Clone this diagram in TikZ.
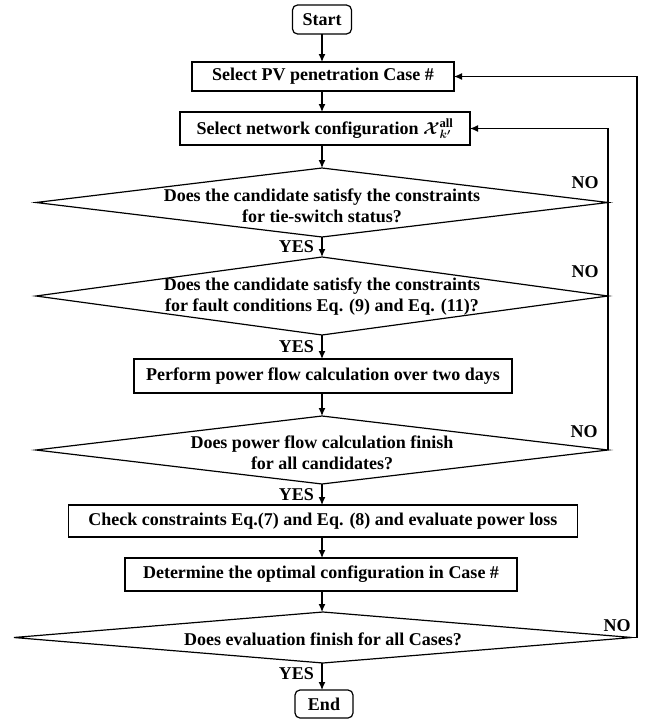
\documentclass[tikz,border=0pt]{standalone}
\usepackage{amsmath,bm}
\usepackage{fontspec}
\setmainfont{Liberation Serif}
\usetikzlibrary{shapes.geometric,arrows.meta}
\begin{document}
\begin{tikzpicture}[x=1pt,y=-1pt,
  txt/.style={font=\fontsize{18}{21}\selectfont\bfseries, inner sep=0pt, outer sep=0pt, align=center},
  box/.style={draw, line width=1.2pt, inner sep=0pt, outer sep=0pt},
  term/.style={box, rounded corners=5pt},
  dia/.style={draw, diamond, line width=1.2pt, inner sep=0pt, outer sep=0pt},
  arr/.style={line width=1.2pt, -{Latex[length=8pt,width=7pt]}},
  ln/.style={line width=1.2pt}]
\useasboundingbox (0,0) rectangle (646,720);

% terminals and boxes
\node[term, minimum width=59, minimum height=29] (start) at (322,19.5) {};
\node[txt] at (start) {Start};
\node[box, minimum width=262, minimum height=29] (b1) at (323,76.5) {};
\node[txt] at (b1) {Select PV penetration Case \#};
\node[box, minimum width=290, minimum height=33] (b2) at (325,128.5) {};
\node[txt] at (b2) {Select network configuration $\boldsymbol{\mathcal{X}}^{\mathbf{all}}_{\boldsymbol{k'}}$};

% diamonds
\node[dia, minimum width=572, minimum height=69] (d1) at (322,202.5) {};
\node[txt] at (322,205.5) {Does the candidate satisfy the constraints\\for tie-switch status?};
\node[dia, minimum width=572, minimum height=78] (d2) at (322,296) {};
\node[txt] at (322,296.5) {Does the candidate satisfy the constraints\\for fault conditions Eq. (9) and Eq. (11)?};

\node[box, minimum width=378, minimum height=34] (b3) at (323,376) {};
\node[txt] at (b3) {Perform power flow calculation over two days};

\node[dia, minimum width=572, minimum height=68] (d3) at (322,450) {};
\node[txt] at (322,453) {Does power flow calculation finish\\for all candidates?};

\node[box, minimum width=509, minimum height=32] (b4) at (323,521) {};
\node[txt] at (b4) {Check constraints Eq.(7) and Eq. (8) and evaluate power loss};
\node[box, minimum width=392, minimum height=33] (b5) at (321,574.5) {};
\node[txt] at (b5) {Determine the optimal configuration in Case \#};

\node[dia, minimum width=618, minimum height=51] (d4) at (323,637.5) {};
\node[txt] at (323,639) {Does evaluation finish for all Cases?};

\node[term, minimum width=58, minimum height=28] (end) at (324,704) {};
\node[txt] at (end) {End};

% main flow
\draw[arr] (start.south) -- (start.south |- b1.north);
\draw[arr] (b1.south -| start.south) -- (start.south |- b2.north);
\draw[arr] (b2.south -| start.south) -- (start.south |- d1.north);
\draw[arr] (d1.south -| start.south) -- (start.south |- d2.north);
\draw[arr] (d2.south -| start.south) -- (start.south |- b3.north);
\draw[arr] (b3.south -| start.south) -- (start.south |- d3.north);
\draw[arr] (d3.south -| start.south) -- (start.south |- b4.north);
\draw[arr] (b4.south -| start.south) -- (start.south |- b5.north);
\draw[arr] (b5.south -| start.south) -- (start.south |- d4.north);
\draw[arr] (d4.south -| start.south) -- (start.south |- end.north);

% YES labels
\node[txt, anchor=east] (y1) at (314,247) {YES};
\node[txt, anchor=east] (y2) at (314,347) {YES};
\node[txt, anchor=east] (y3) at (314,495) {YES};
\node[txt, anchor=east] (y4) at (314,674) {YES};

% NO labels
\node[txt] (n1) at (585,183) {NO};
\node[txt] (n2) at (585,272) {NO};
\node[txt] (n3) at (584,432) {NO};
\node[txt] (n4) at (617,626) {NO};

% inner loop
\draw[arr] (d3.east) -- (d3.east |- b2.east) -- (b2.east);
% outer loop
\coordinate (o) at (637,637.5);
\draw[arr] (d4.east) -- (o) -- (o |- b1.east) -- (b1.east);
\end{tikzpicture}
\end{document}
